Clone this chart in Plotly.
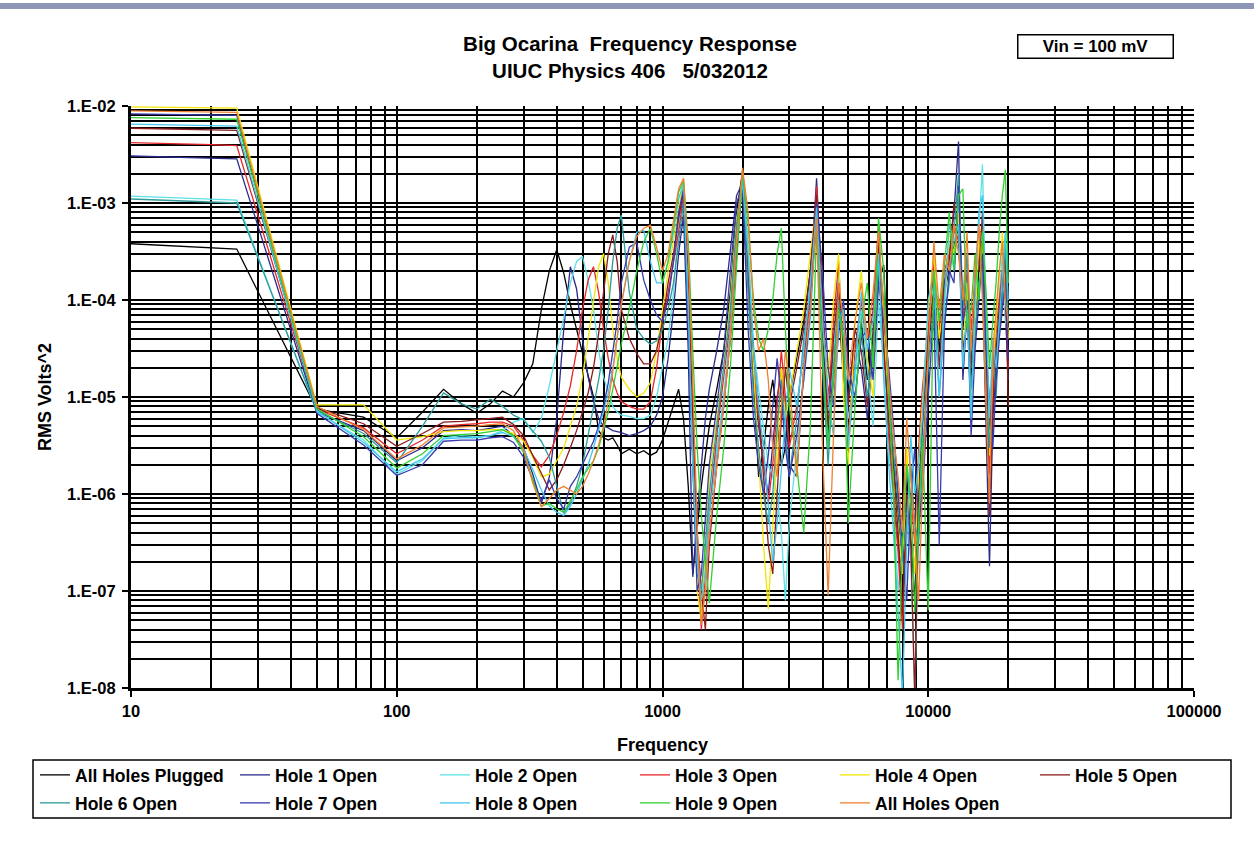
import plotly.graph_objects as go

# Frequency grid (Hz) shared by all measurements
FREQ = [10, 15, 20, 25,
        50, 75, 100, 125, 150, 175, 200, 225, 250, 275, 300, 325, 350, 375, 400,
        425, 450, 475, 500, 525, 550, 575, 600, 625, 650, 675, 700,
        750, 800, 850, 900, 950, 1000,
        1050, 1100, 1150, 1200, 1250, 1300, 1350, 1400, 1450, 1500,
        1600, 1700, 1800, 1900, 2000, 2100, 2200, 2300, 2400, 2500, 2600, 2700, 2800, 2900, 3000,
        3200, 3400, 3600, 3800, 4000, 4200, 4400, 4600, 4800, 5000,
        5300, 5600, 5900, 6200, 6500, 6800, 7100, 7400, 7700, 8000, 8300, 8600, 8900, 9200, 9500,
        10000, 10500, 11000, 11500, 12000, 12500, 13000, 13500, 14000, 14500, 15000,
        15500, 16000, 16500, 17000, 17500, 18000, 18500, 19000, 19500, 20000]

# RMS Volts^2 for each configuration
all_plugged = [3.8e-4, 3.6e-4, 3.5e-4, 3.35e-4,
    7.5e-6, 6.2e-6, 3.8e-6, 7e-6, 1.2e-5, 8.5e-6, 6.8e-6, 8.5e-6, 1.15e-5, 1e-5, 1.4e-5, 2.2e-5, 8e-5, 2e-4, 3.3e-4,
    1.9e-4, 9e-5, 5e-5, 2.8e-5, 1.6e-5, 1e-5, 4.5e-6, 3.8e-6, 3.6e-6, 3.8e-6, 3.2e-6, 2.6e-6,
    2.9e-6, 2.6e-6, 2.8e-6, 2.5e-6, 2.7e-6, 3.6e-6,
    5.5e-6, 8e-6, 1.2e-5, 6e-6, 1.2e-6, 1.5e-7, 4e-7, 1.2e-6, 2.5e-6, 5e-6,
    1.2e-5, 3e-5, 1.2e-4, 8e-4, 2.1e-3, 2e-4, 1.5e-5, 1.5e-6, 3e-6, 8e-6, 1.5e-5, 6e-6, 2e-6, 3e-6, 1e-5,
    2.5e-5, 6e-5, 2e-4, 1.2e-3, 6e-5, 4e-6, 1.5e-5, 1.2e-4, 2e-5, 3e-6,
    2e-5, 6e-5, 1.5e-5, 4e-5, 1.5e-4, 2.3e-4, 1.2e-5, 2e-6, 6e-7, 2e-7, 1.5e-6, 4e-7, 8e-8, 6e-7, 2e-6,
    3e-5, 1.5e-4, 3e-5, 1.2e-4, 2e-4, 3.5e-4, 6e-4, 5e-5, 1.2e-4, 1.5e-5, 6e-5,
    2e-4, 3e-4, 3e-5, 4e-6, 1.2e-5, 3e-5, 8e-5, 1.5e-4, 2.5e-4, 3e-5]

hole1 = [3.05e-3, 2.95e-3, 2.9e-3, 2.85e-3,
    7e-6, 4.5e-6, 2.2e-6, 3e-6, 4.5e-6, 4.6e-6, 4.5e-6, 4.8e-6, 5e-6, 4e-6, 3e-6, 1.6e-6, 8e-7, 1.5e-6, 6e-6,
    5e-5, 2.2e-4, 1.3e-4, 4e-5, 1.6e-5, 9e-6, 6e-6, 5e-6, 4.8e-6, 4.5e-6, 4.4e-6, 4.3e-6,
    4e-6, 4.2e-6, 4.5e-6, 5e-6, 6.5e-6, 1e-5,
    2.5e-5, 8e-5, 3e-4, 7.5e-4, 3e-5, 1.4e-7, 6e-7, 2e-6, 6e-6, 1.2e-5,
    3e-5, 8e-5, 3e-4, 1.2e-3, 1.6e-3, 1.5e-4, 1.6e-5, 5e-6, 2e-6, 1e-6, 3e-6, 1e-5, 1.8e-5, 8e-6, 2e-6,
    1.5e-6, 2e-5, 1.5e-4, 1.8e-3, 1e-4, 1e-5, 3e-5, 8e-5, 1.5e-5, 1e-5,
    4e-5, 2e-5, 6e-6, 3e-5, 2e-4, 4e-5, 5e-6, 1e-6, 3e-7, 1.5e-7, 2e-6, 6e-7, 1.5e-7, 1e-6, 5e-6,
    4e-5, 2e-4, 6e-5, 1.5e-4, 3e-4, 8e-4, 4.3e-3, 1.5e-5, 8e-5, 3e-5, 1e-4,
    3e-4, 1.5e-4, 6e-6, 1.8e-7, 6e-6, 2e-5, 6e-5, 1.2e-4, 8e-5, 1.5e-5]

hole2 = [1.18e-3, 1.13e-3, 1.1e-3, 1.07e-3,
    7e-6, 3.6e-6, 1.6e-6, 2.2e-6, 3.8e-6, 4e-6, 3.9e-6, 4e-6, 4.5e-6, 5.5e-6, 6e-6, 4.3e-6, 6e-6, 1.3e-5, 3e-5,
    6.5e-5, 1.5e-4, 2.5e-4, 2.8e-4, 1.6e-4, 8e-5, 3e-5, 1.6e-5, 1.1e-5, 8e-6, 7e-6, 6.5e-6,
    6.3e-6, 6e-6, 6e-6, 6.5e-6, 1e-5, 2e-5,
    4e-5, 1.2e-4, 6e-4, 1.5e-3, 1e-4, 5e-6, 2e-7, 6e-8, 2e-7, 8e-7,
    3e-6, 1e-5, 4e-5, 3e-4, 1.8e-3, 4e-4, 3.5e-5, 1.2e-5, 5e-6, 2e-6, 1.5e-6, 1e-6, 4e-7, 8e-8, 5e-7,
    3e-6, 1.5e-5, 6e-5, 8e-4, 3e-5, 3e-6, 2.5e-5, 2e-4, 3e-5, 6e-6,
    1.5e-5, 8e-5, 2e-5, 5e-6, 1e-4, 2e-5, 3e-6, 8e-7, 1e-7, 3e-7, 8e-7, 2e-7, 8e-9, 4e-7, 3e-6,
    6e-5, 1.5e-4, 2e-5, 8e-5, 4e-4, 2e-4, 1e-3, 1e-4, 3e-4, 2e-5, 8e-5,
    5e-4, 2.5e-3, 5e-5, 3e-6, 1.5e-5, 4e-5, 1.2e-4, 3e-4, 6e-5, 5e-5]

hole3 = [4.2e-3, 4.1e-3, 4e-3, 3.9e-3,
    7.5e-6, 4.8e-6, 2.6e-6, 3.6e-6, 5e-6, 5.2e-6, 5.3e-6, 5.5e-6, 5.5e-6, 5e-6, 3.6e-6, 2.5e-6, 1.9e-6, 2.5e-6, 4e-6,
    7e-6, 1.3e-5, 3e-5, 8e-5, 1.6e-4, 2.2e-4, 1.2e-4, 5e-5, 2.5e-5, 1.5e-5, 1.1e-5, 9e-6,
    8e-6, 7.5e-6, 7.5e-6, 9e-6, 2e-5, 6e-5,
    1.2e-4, 2.5e-4, 5e-4, 1.2e-3, 2e-4, 8e-6, 3e-7, 4e-8, 1.5e-7, 6e-7,
    4e-6, 1.5e-5, 6e-5, 5e-4, 2e-3, 2.5e-4, 2e-5, 6e-6, 2e-6, 8e-7, 2e-6, 8e-6, 3e-5, 1e-5, 3e-6,
    8e-6, 3e-5, 1e-4, 1.5e-3, 8e-5, 8e-6, 6e-5, 2.5e-4, 2e-5, 4e-6,
    3e-5, 1e-4, 3e-5, 8e-5, 6e-4, 5e-5, 4e-6, 1e-6, 2.5e-7, 4e-8, 5e-7, 1e-6, 3e-7, 3e-6, 1.2e-5,
    5e-5, 2.5e-4, 5e-5, 2e-4, 3e-4, 6e-4, 4e-4, 6e-5, 2e-4, 5e-5, 1.5e-4,
    3e-4, 4e-4, 2e-5, 1.6e-6, 1e-5, 5e-5, 1e-4, 2e-4, 1.2e-4, 2e-5]

hole4 = [9.8e-3, 9.7e-3, 9.6e-3, 9.5e-3,
    8.3e-6, 8.3e-6, 3.6e-6, 3.9e-6, 4.4e-6, 4.5e-6, 4.5e-6, 4.6e-6, 4.6e-6, 4.2e-6, 3.5e-6, 2.4e-6, 1.5e-6, 1.6e-6, 2.2e-6,
    3e-6, 5e-6, 8e-6, 1.6e-5, 4e-5, 1e-4, 2.2e-4, 3e-4, 1.5e-4, 5e-5, 2.5e-5, 1.6e-5,
    1.2e-5, 1e-5, 1.1e-5, 1.4e-5, 3e-5, 8e-5,
    2e-4, 4e-4, 9e-4, 1.6e-3, 1.5e-4, 3e-6, 1e-7, 5e-8, 3e-7, 1.5e-6,
    6e-6, 2e-5, 1e-4, 7e-4, 1.5e-3, 3e-4, 2e-5, 2e-6, 3e-7, 6.5e-8, 4e-7, 3e-6, 2e-5, 6e-6, 1e-5,
    3e-5, 8e-5, 3e-4, 1e-3, 5e-5, 1.5e-5, 1e-4, 3e-4, 1e-5, 2e-6,
    6e-5, 2e-4, 2.5e-5, 1e-5, 3e-4, 6e-5, 8e-6, 1.5e-6, 5e-7, 1.5e-7, 3e-6, 5e-7, 1.5e-7, 2e-6, 8e-6,
    8e-5, 3e-4, 4e-5, 1e-4, 5e-4, 3e-4, 8e-4, 3e-5, 1.5e-4, 8e-6, 6e-5,
    4e-4, 6e-4, 1.5e-5, 2.5e-6, 2e-5, 6e-5, 2e-4, 5e-4, 2e-4, 4e-5]

hole5 = [5.9e-3, 5.8e-3, 5.7e-3, 5.6e-3,
    7.8e-6, 5.3e-6, 3.1e-6, 4.2e-6, 5.5e-6, 5.6e-6, 5.8e-6, 6e-6, 6.2e-6, 5.2e-6, 4e-6, 2.5e-6, 1.6e-6, 1.1e-6, 1.4e-6,
    2e-6, 3e-6, 4.5e-6, 7e-6, 1.1e-5, 2e-5, 4.5e-5, 1.2e-4, 3e-4, 4.7e-4, 2.5e-4, 8e-5,
    4e-5, 2.8e-5, 2.2e-5, 2.2e-5, 3e-5, 6e-5,
    1.5e-4, 3e-4, 7e-4, 1.3e-3, 2e-4, 6e-6, 4e-7, 1e-7, 4e-8, 3e-7,
    2e-6, 8e-6, 4e-5, 3e-4, 1.8e-3, 2e-4, 3e-5, 8e-6, 1.5e-6, 3e-7, 1.5e-7, 1e-6, 6e-6, 2e-5, 8e-6,
    2e-5, 5e-5, 2e-4, 1.2e-3, 4e-5, 5e-6, 4e-5, 1.5e-4, 3e-5, 8e-6,
    5e-5, 3e-5, 8e-6, 5e-5, 4e-4, 3e-5, 6e-6, 2e-6, 4e-7, 6e-8, 1e-6, 3e-7, 8e-9, 8e-7, 5e-6,
    4e-5, 1.2e-4, 2e-5, 1.5e-4, 2.5e-4, 1e-3, 5e-4, 3e-5, 6e-5, 2e-5, 2e-4,
    2e-4, 8e-4, 4e-5, 6e-7, 8e-6, 3e-5, 8e-5, 1.5e-4, 3e-4, 8e-6]

hole6 = [1.1e-3, 1.05e-3, 1.03e-3, 1e-3,
    7.3e-6, 4.2e-6, 2.1e-6, 5e-6, 1.1e-5, 8.5e-6, 7.5e-6, 9.5e-6, 8e-6, 6.5e-6, 5.8e-6, 4.5e-6, 3.5e-6, 2.4e-6, 1.2e-6,
    6.3e-7, 8e-7, 1.2e-6, 2e-6, 4e-6, 8e-6, 1.5e-5, 3e-5, 8e-5, 2.5e-4, 5.5e-4, 7.5e-4,
    1.2e-4, 5e-5, 4e-5, 3.5e-5, 3.8e-5, 5e-5,
    8e-5, 1.5e-4, 4e-4, 1e-3, 8e-5, 2e-6, 1.5e-7, 1e-7, 3e-7, 1e-6,
    5e-6, 2e-5, 8e-5, 6e-4, 2e-3, 1.2e-4, 1e-5, 3e-6, 1e-6, 5e-7, 1e-6, 5e-6, 1.5e-5, 4e-6, 1.5e-6,
    6e-6, 4e-5, 1.2e-4, 6e-4, 2e-5, 2e-6, 2e-5, 1e-4, 4e-5, 1.5e-5,
    8e-6, 5e-5, 1e-5, 3e-5, 2.5e-4, 1e-4, 1e-5, 3e-6, 8e-7, 2e-7, 5e-7, 2e-6, 5e-7, 3e-7, 2e-6,
    2e-5, 1e-4, 1e-5, 6e-5, 1.5e-4, 5e-4, 2e-3, 8e-5, 3e-4, 1.2e-5, 4e-5,
    1.5e-4, 2e-4, 1e-5, 3e-6, 3e-5, 1e-5, 5e-5, 1e-4, 4e-4, 6e-5]

hole7 = [8.3e-3, 8.2e-3, 8.1e-3, 8e-3,
    6.8e-6, 3.2e-6, 1.55e-6, 2e-6, 3.5e-6, 3.6e-6, 3.6e-6, 3.8e-6, 3.9e-6, 3.4e-6, 2.4e-6, 1.4e-6, 8.5e-7, 1.4e-6, 9e-7,
    7e-7, 1.2e-6, 1.5e-6, 2e-6, 2.6e-6, 3.5e-6, 5e-6, 8e-6, 1.4e-5, 3e-5, 6e-5, 1.5e-4,
    3.5e-4, 3.9e-4, 1.6e-4, 1e-4, 7e-5, 6e-5,
    1e-4, 2.5e-4, 8e-4, 1.4e-3, 5e-5, 1.5e-6, 1e-7, 1.5e-7, 5e-7, 2e-6,
    8e-6, 3e-5, 2e-4, 1e-3, 1.5e-3, 5e-5, 6e-6, 2e-6, 1e-6, 2.5e-6, 8e-6, 2.5e-5, 1e-5, 3e-6, 1.5e-6,
    4e-6, 1.5e-5, 8e-5, 1e-3, 2e-4, 2e-5, 8e-6, 5e-5, 1e-4, 2e-5,
    1e-5, 4e-5, 5e-5, 1.5e-5, 1.5e-4, 6e-5, 2e-5, 5e-6, 1e-6, 3e-7, 8e-8, 1e-6, 3e-6, 5e-7, 1e-6,
    1e-5, 8e-5, 3e-7, 5e-5, 2e-4, 1.5e-4, 1.5e-3, 6e-5, 1e-4, 4e-6, 3e-5,
    1e-4, 3e-4, 3e-5, 1e-5, 3e-6, 1.5e-5, 4e-5, 8e-5, 1.5e-4, 2.5e-5]

hole8 = [6.5e-3, 6.4e-3, 6.3e-3, 6.2e-3,
    7.2e-6, 3.4e-6, 1.7e-6, 2.3e-6, 3.7e-6, 3.8e-6, 3.8e-6, 4e-6, 4.3e-6, 3.9e-6, 2.9e-6, 1.8e-6, 1.1e-6, 7.5e-7, 6.5e-7,
    6e-7, 7.5e-7, 1e-6, 1.4e-6, 2e-6, 3e-6, 4.5e-6, 7e-6, 1.1e-5, 2e-5, 4e-5, 9e-5,
    2.5e-4, 5e-4, 5.2e-4, 2.5e-4, 1.5e-4, 1.5e-4,
    2.5e-4, 5e-4, 1.1e-3, 1.6e-3, 8e-5, 2e-6, 2e-7, 8e-8, 1.5e-7, 6e-7,
    2.5e-6, 1e-5, 5e-5, 4e-4, 1.7e-3, 3e-4, 3e-5, 8e-6, 3e-6, 8e-7, 2e-7, 5e-7, 2e-6, 6e-6, 2e-5,
    8e-6, 3e-5, 1.5e-4, 9e-4, 6e-5, 1e-5, 4e-6, 6e-5, 8e-5, 3e-6,
    2e-5, 1.2e-4, 3e-5, 6e-5, 3e-4, 1.5e-5, 2e-6, 4e-7, 6e-8, 8e-9, 3e-7, 4e-6, 1e-6, 2e-6, 6e-6,
    1e-4, 2e-4, 1e-5, 1e-4, 6e-4, 4e-4, 6e-4, 2e-5, 8e-5, 6e-6, 1e-4,
    8e-4, 1.2e-3, 8e-5, 6e-6, 4e-5, 2e-5, 6e-5, 2e-4, 5e-4, 1e-4]

hole9 = [7.6e-3, 7.5e-3, 7.4e-3, 7.3e-3,
    7.6e-6, 3.9e-6, 1.85e-6, 2.6e-6, 4e-6, 4.1e-6, 4.2e-6, 4.4e-6, 4.6e-6, 4e-6, 2.7e-6, 1.4e-6, 7.5e-7, 8e-7, 7e-7,
    6.5e-7, 8.5e-7, 1.1e-6, 1.5e-6, 1.8e-6, 2.2e-6, 3e-6, 4.5e-6, 7e-6, 1.2e-5, 2e-5, 3.5e-5,
    8e-5, 2e-4, 4e-4, 5.5e-4, 3e-4, 1.5e-4,
    2.5e-4, 6e-4, 1.3e-3, 1.7e-3, 4e-4, 3e-5, 3e-6, 6e-7, 2e-7, 7.5e-8,
    6e-7, 3e-6, 2e-5, 2e-4, 2.2e-3, 6e-4, 1e-4, 4e-5, 3e-5, 5e-5, 1e-4, 3e-4, 5.5e-4, 5e-5, 8e-6,
    2e-6, 4e-7, 5e-6, 5e-4, 3e-5, 3e-6, 1.5e-5, 8e-5, 4e-5, 5e-7,
    8e-6, 6e-5, 1.5e-4, 2e-5, 7e-4, 2e-4, 1e-5, 1.2e-6, 1.2e-8, 3e-7, 2e-6, 8e-7, 6e-8, 5e-7, 4e-6,
    6.3e-8, 2e-4, 6e-5, 2.5e-4, 8e-4, 2e-4, 1.2e-3, 1.4e-3, 5e-5, 8e-5, 3e-4,
    1e-4, 5e-4, 1.2e-4, 2e-5, 6e-5, 1.5e-4, 5e-4, 1.2e-3, 2.2e-3, 1.5e-4]

all_open = [8.9e-3, 8.8e-3, 8.7e-3, 8.6e-3,
    8e-6, 4.6e-6, 2.3e-6, 3.2e-6, 4.8e-6, 4.9e-6, 5e-6, 5.2e-6, 5.3e-6, 4.5e-6, 2.9e-6, 1.3e-6, 7.4e-7, 9e-7, 1.1e-6,
    1.2e-6, 1.1e-6, 1e-6, 1.2e-6, 1.6e-6, 2.2e-6, 3.2e-6, 5e-6, 9e-6, 1.8e-5, 4e-5, 9e-5,
    2.5e-4, 4.5e-4, 5.5e-4, 5.9e-4, 3.5e-4, 2e-4,
    3e-4, 7e-4, 1.4e-3, 1.8e-3, 3e-4, 1.5e-5, 5e-7, 4.5e-8, 1e-7, 4e-7,
    2e-6, 8e-6, 4e-5, 4e-4, 2.3e-3, 8e-4, 8e-5, 3e-5, 4e-5, 1.5e-5, 3e-6, 1.5e-6, 8e-6, 3e-5, 1.5e-5,
    1.5e-6, 2e-5, 8e-5, 7e-4, 3e-6, 9e-8, 5e-6, 1.5e-4, 6e-5, 1.5e-5,
    6e-5, 1.5e-4, 4e-5, 1.2e-4, 5e-4, 8e-5, 1.5e-5, 4e-6, 1.5e-6, 4e-7, 6e-6, 1.5e-6, 3e-7, 8e-8, 1e-6,
    3e-5, 4e-4, 8e-5, 3e-4, 2e-4, 6e-4, 3e-4, 1e-4, 5e-4, 3e-5, 2e-4,
    6e-4, 1e-4, 8e-6, 8e-7, 3e-5, 8e-5, 2e-4, 4e-4, 1e-4, 6e-5]

SERIES_NAMES = ["All Holes Plugged", "Hole 1 Open", "Hole 2 Open", "Hole 3 Open",
                "Hole 4 Open", "Hole 5 Open", "Hole 6 Open", "Hole 7 Open",
                "Hole 8 Open", "Hole 9 Open", "All Holes Open"]
SERIES_VALUES = [all_plugged, hole1, hole2, hole3, hole4, hole5,
                 hole6, hole7, hole8, hole9, all_open]
SERIES_COLORS = ["#000000", "#2b2b8c", "#5ce1e6", "#e8262a", "#f2e600", "#8b1c1c",
                 "#2e9a9a", "#3a3ab0", "#40c8f0", "#30d030", "#f08030"]

X_TICKS = [10, 100, 1000, 10000, 100000]
X_TICK_TEXT = ["10", "100", "1000", "10000", "100000"]
Y_TICKS = [1e-8, 1e-7, 1e-6, 1e-5, 1e-4, 1e-3, 1e-2]
Y_TICK_TEXT = ["1.E-08", "1.E-07", "1.E-06", "1.E-05", "1.E-04", "1.E-03", "1.E-02"]

for vals in SERIES_VALUES:
    assert len(vals) == len(FREQ), len(vals)

FONT = "Arial, 'Liberation Sans', sans-serif"

# minor grid positions (2..9 within each decade)
x_minor = [k * 10 ** d for d in range(1, 5) for k in range(2, 10)]
y_minor = [k * 10.0 ** d for d in range(-8, -2) for k in range(2, 10)]

# legend layout: two rows of six columns, each row split in two blocks
LEGEND_OF_TRACE = ["legend", "legend", "legend", "legend3", "legend3", "legend3",
                   "legend2", "legend2", "legend2", "legend4", "legend4"]

fig = go.Figure()
for name, vals, color, leg in zip(SERIES_NAMES, SERIES_VALUES, SERIES_COLORS, LEGEND_OF_TRACE):
    fig.add_trace(go.Scatter(
        x=FREQ, y=vals, name=name, mode="lines",
        line=dict(color=color, width=1.3),
        legend=leg,
    ))

# Plot area pixel geometry
W, H = 1254, 858
ML, MR, MT, MB = 131, 60, 106, 170
PW, PH = W - ML - MR, H - MT - MB


def px_x(p):
    return (p - ML) / PW


def px_y(p):
    return (H - MB - p) / PH


legend_common = dict(
    orientation="h", xanchor="left", yanchor="middle",
    entrywidth=155, entrywidthmode="pixels",
    font=dict(family=FONT, size=17.5, color="black", weight="bold"),
    bgcolor="rgba(0,0,0,0)", borderwidth=0, traceorder="normal",
)

axis_font = dict(family=FONT, size=16.5, color="black", weight="bold")
title_font = dict(family=FONT, size=18, color="black", weight="bold")

fig.update_layout(
    width=W, height=H,
    margin=dict(l=ML, r=MR, t=MT, b=MB),
    paper_bgcolor="white", plot_bgcolor="white",
    title=dict(
        text="Big Ocarina  Frequency Response<br>UIUC Physics 406   5/032012",
        font=dict(family=FONT, size=20.5, color="black", weight="bold"),
        x=630 / W, xref="container", xanchor="center",
        y=1 - 51 / H, yref="container", yanchor="middle",
    ),
    xaxis=dict(
        type="log", range=[1, 5],
        tickvals=X_TICKS, ticktext=X_TICK_TEXT, tickfont=axis_font,
        ticks="outside", ticklen=6, tickwidth=2, tickcolor="black",
        showgrid=True, gridcolor="black", gridwidth=1.6,
        showline=True, linecolor="black", linewidth=3,
        minor=dict(tickvals=x_minor, showgrid=True, gridcolor="black", gridwidth=1.6, ticks=""),
        title=dict(text="Frequency", font=title_font, standoff=20),
        zeroline=False,
    ),
    yaxis=dict(
        type="log", range=[-8, -2],
        tickvals=Y_TICKS, ticktext=Y_TICK_TEXT, tickfont=axis_font,
        ticks="outside", ticklen=6, tickwidth=2, tickcolor="black", ticklabelstandoff=3,
        showgrid=True, gridcolor="black", gridwidth=1.6,
        showline=True, linecolor="black", linewidth=3,
        minor=dict(tickvals=y_minor, showgrid=True, gridcolor="black", gridwidth=1.6, ticks=""),
        title=dict(text="RMS Volts^2", font=title_font, standoff=11),
        zeroline=False,
    ),
    legend=dict(legend_common, x=px_x(35), y=px_y(775)),
    legend3=dict(legend_common, x=px_x(635), y=px_y(775)),
    legend2=dict(legend_common, x=px_x(35), y=px_y(803)),
    legend4=dict(legend_common, x=px_x(635), y=px_y(803)),
    showlegend=True,
    shapes=[
        # legend frame
        dict(type="rect", xref="paper", yref="paper",
             x0=px_x(33), x1=px_x(1231), y0=px_y(818), y1=px_y(760),
             line=dict(color="black", width=1.5), fillcolor="rgba(0,0,0,0)", layer="above"),
        # header band
        dict(type="rect", xref="paper", yref="paper",
             x0=px_x(0), x1=px_x(W), y0=px_y(9), y1=px_y(3),
             line=dict(width=0), fillcolor="#8d96b5", layer="above"),
    ],
    annotations=[
        dict(text="Vin = 100 mV", xref="paper", yref="paper",
             x=px_x(1095), y=px_y(47), xanchor="center", yanchor="middle",
             showarrow=False, width=152, height=20, borderpad=1,
             bordercolor="black", borderwidth=1.5, bgcolor="white",
             font=dict(family=FONT, size=17, color="black", weight="bold")),
    ],
)

fig.write_html("out.html")
